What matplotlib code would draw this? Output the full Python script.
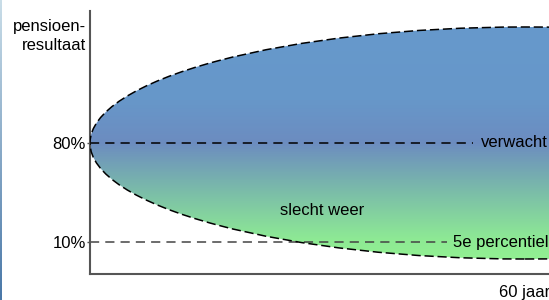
import numpy as np
import matplotlib
matplotlib.use("Agg")
import matplotlib.pyplot as plt
from matplotlib.patches import Ellipse
from matplotlib.colors import LinearSegmentedColormap

plt.rcParams['font.family'] = ['Liberation Sans', 'DejaVu Sans']

# data
horizon = 60          # jaar
verwacht = 80         # %
percentiel5 = 10      # %
spreiding = 82        # halve hoogte van de waaier in %
ytick_vals = [10, 80]
ytick_labels = ['10%', '80%']
xtick_vals = [60]
xtick_labels = ['60 jaar']

fig = plt.figure(figsize=(5.49, 3.0), dpi=100)
ax = fig.add_axes([90 / 549, 26 / 300, 1 - 90 / 549, 263 / 300])
ax.set_xlim(0, 63.3)
ax.set_ylim(-12.6, 173.3)

# kleurverloop blauw -> groen
stops = [(0.0, '#92f092'), (0.08, '#8eea94'), (0.3, '#7abaaa'),
         (0.5, '#6c8cc0'), (0.68, '#6797c9'), (1.0, '#6699cc')]
cmap = LinearSegmentedColormap.from_list('pens', stops)
ylo, yhi = verwacht - spreiding, verwacht + spreiding
grad = np.linspace(0, 1, 400).reshape(-1, 1)
img = ax.imshow(grad, aspect='auto', cmap=cmap, origin='lower',
                extent=[0, 2 * horizon, ylo, yhi], zorder=1)

ell = Ellipse((horizon, verwacht), 2 * horizon, 2 * spreiding,
              facecolor='none', edgecolor='black', lw=1.1,
              linestyle=(0, (6, 2.5)), zorder=3)
ax.add_patch(ell)
img.set_clip_path(ell)

# referentielijnen
ax.plot([0, 52.8], [verwacht, verwacht], color='black', lw=1.1,
        dashes=(6, 4), zorder=2)
ax.plot([0, 49.3], [percentiel5, percentiel5], color='#444444', lw=1.1,
        dashes=(6, 4), zorder=2)
ax.text(53.9, verwacht, 'verwacht', fontsize=12, va='center', ha='left', zorder=4)
ax.text(50.1, percentiel5, '5e percentiel', fontsize=12, va='center', ha='left', zorder=4)
ax.text(32.0, 32.5, 'slecht weer', fontsize=12, va='center', ha='center', zorder=4)

# assen
for s in ['top', 'right']:
    ax.spines[s].set_visible(False)
for s in ['left', 'bottom']:
    ax.spines[s].set_color('#555555')
    ax.spines[s].set_linewidth(1.5)
ax.set_yticks(ytick_vals)
ax.set_yticklabels(ytick_labels, fontsize=12)
ax.set_xticks(xtick_vals)
ax.set_xticklabels(xtick_labels, fontsize=12)
ax.tick_params(axis='y', length=2, width=1, color='#555555', pad=1)
ax.tick_params(axis='x', length=0, pad=8)

fig.text(86 / 549, 1 - 19 / 300, 'pensioen-\nresultaat', fontsize=12,
         ha='right', va='top', linespacing=1.35)

# dunne rand links
strip = fig.add_axes([0, 0, 2 / 549, 1])
strip.imshow(np.linspace(0, 1, 100).reshape(-1, 1), aspect='auto',
             cmap=LinearSegmentedColormap.from_list('rand', ['#4a78a8', '#c9dde8']),
             origin='lower')
strip.axis('off')

fig.savefig('out.png', dpi=100)
